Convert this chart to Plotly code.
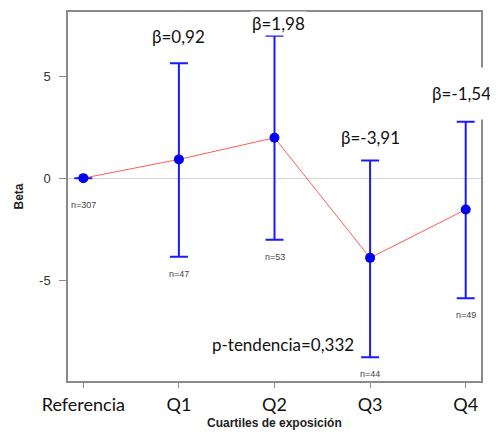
import plotly.graph_objects as go

categories = ["Referencia", "Q1", "Q2", "Q3", "Q4"]
beta = [0.0, 0.92, 1.98, -3.91, -1.54]
ci_upper = [0.0, 5.64, 6.98, 0.86, 2.77]
ci_lower = [0.0, -3.85, -3.02, -8.78, -5.89]
n_labels = ["n=307", "n=47", "n=53", "n=44", "n=49"]
beta_labels = ["β=0,92", "β=1,98", "β=-3,91", "β=-1,54"]
beta_label_x = [1.0, 2.04, 3.0, 3.96]
beta_label_y = [6.93, 7.58, 2.0, 4.16]
p_label = "p-tendencia=0,332"
y_ticks = [-5, 0, 5]

xs = list(range(len(categories)))
err_plus = [u - b for u, b in zip(ci_upper, beta)]
err_minus = [b - l for b, l in zip(beta, ci_lower)]

fig = go.Figure()
fig.add_trace(go.Scatter(
    x=xs, y=beta, mode="lines",
    line=dict(color="#ff5a5a", width=1),
    hoverinfo="skip", showlegend=False))
fig.add_trace(go.Scatter(
    x=xs, y=beta, mode="markers",
    marker=dict(color="#0000ee", size=10),
    error_y=dict(type="data", symmetric=False, array=err_plus, arrayminus=err_minus,
                 color="#1a1aff", thickness=2, width=9),
    showlegend=False))

ann = []
for i, (x, lo, t) in enumerate(zip(xs, ci_lower, n_labels)):
    ann.append(dict(x=x, y=lo, xref="x", yref="y", text=t, showarrow=False,
                    yanchor="top", yshift=-20 if i == 0 else -10,
                    font=dict(family="Arial", size=9, color="#444444")))
for i, (x, y, t) in enumerate(zip(beta_label_x, beta_label_y, beta_labels)):
    ann.append(dict(x=x, y=y, xref="x", yref="y", text=t, showarrow=False,
                    bgcolor="white", borderpad=15 if i == 3 else 1,
                    font=dict(family="Lato", size=17, color="#111111")))
ann.append(dict(x=2.09, y=-8.15, xref="x", yref="y", text=p_label, showarrow=False,
                font=dict(family="Lato", size=17, color="#111111")))
ann.append(dict(x=0.5, y=0, xref="paper", yref="paper", text="<b>Cuartiles de exposición</b>",
                showarrow=False, yanchor="middle", yshift=-42,
                font=dict(family="Arial", size=12, color="#222222")))
ann.append(dict(x=0, y=0.5, xref="paper", yref="paper", text="<b>Beta</b>",
                showarrow=False, textangle=-90, xanchor="center", xshift=-50,
                font=dict(family="Arial", size=12, color="#222222")))

fig.update_layout(
    width=490, height=431,
    margin=dict(l=60, r=17, t=2, b=58),
    paper_bgcolor="white", plot_bgcolor="white",
    annotations=ann,
    xaxis=dict(range=[-0.16, 4.16], tickmode="array", tickvals=xs, ticktext=categories,
               showgrid=False, zeroline=False, showline=True, mirror=True,
               linecolor="#8a8a8a", linewidth=1.5, ticks="outside", ticklen=5,
               tickcolor="#8a8a8a", ticklabelstandoff=2,
               tickfont=dict(family="Lato", size=18, color="#111111")),
    yaxis=dict(range=[-9.95, 8.15], tickmode="array", tickvals=y_ticks,
               ticktext=[str(v) for v in y_ticks],
               showgrid=False, zeroline=True, zerolinecolor="#d4d4d4", zerolinewidth=1,
               showline=True, mirror=True, linecolor="#8a8a8a", linewidth=1.5,
               ticks="outside", ticklen=7, tickcolor="#8a8a8a", ticklabelstandoff=6,
               tickfont=dict(family="Arial", size=13, color="#333333")),
)

fig.write_html("out.html")
